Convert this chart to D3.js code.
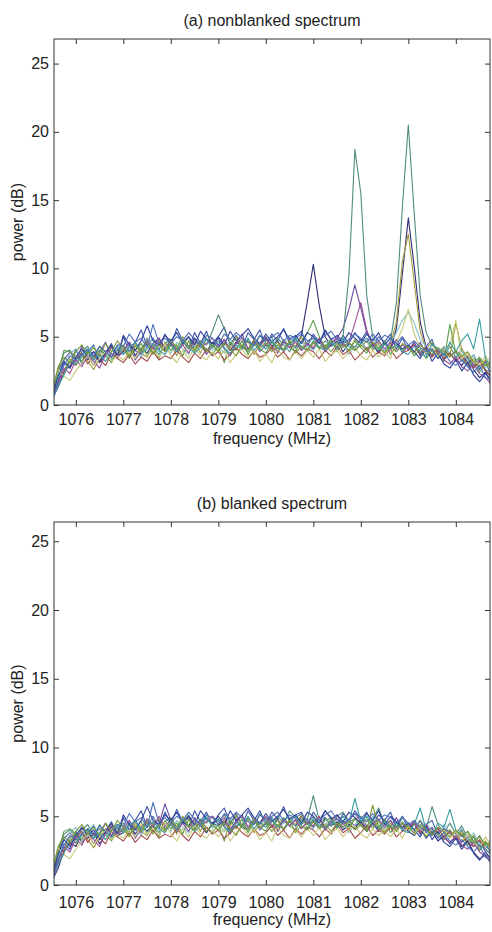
<!DOCTYPE html>
<html>
<head>
<meta charset="utf-8">
<script src="https://cdn.jsdelivr.net/npm/d3@7"></script>
<style>
  body { margin: 0; background: #fff; }
  svg { display: block; font-family: "Liberation Sans", Arial, sans-serif; }
</style>
</head>
<body>
<div id="chart"></div>
<script>
// frequency grid (MHz), one sample every 0.125 MHz
const freqs = [
  1075.5,1075.625,1075.75,1075.875,
  1076,1076.125,1076.25,1076.375,1076.5,1076.625,1076.75,1076.875,
  1077,1077.125,1077.25,1077.375,1077.5,1077.625,1077.75,1077.875,
  1078,1078.125,1078.25,1078.375,1078.5,1078.625,1078.75,1078.875,
  1079,1079.125,1079.25,1079.375,1079.5,1079.625,1079.75,1079.875,
  1080,1080.125,1080.25,1080.375,1080.5,1080.625,1080.75,1080.875,
  1081,1081.125,1081.25,1081.375,1081.5,1081.625,1081.75,1081.875,
  1082,1082.125,1082.25,1082.375,1082.5,1082.625,1082.75,1082.875,
  1083,1083.125,1083.25,1083.375,1083.5,1083.625,1083.75,1083.875,
  1084,1084.125,1084.25,1084.375,1084.5,1084.625,1084.75
];

// (a) nonblanked spectrum, power in dB
const nonblanked = [
  [0.5,1.6,3.1,2.7, 4.1,3.0,3.9,4.4,3.2,3.8,4.5,3.4, 5.0,3.9,4.6,5.5,4.3,4.9,4.0,5.2, 4.4,5.6,4.7,4.1,5.3,4.5,5.4,4.2, 5.0,5.7,4.4,5.1,4.2,5.3,4.8,5.5, 4.3,5.2,4.7,5.6,4.5,5.0,5.4,4.3, 5.2,4.6,5.5,4.8,4.2,5.1,4.5,5.3, 4.7,5.4,4.3,5.0,4.6,5.2,4.1,4.9, 4.0,4.6,3.6,4.3,4.8,3.5,4.2,3.8, 3.3,4.1,3.0,3.7,2.6,3.2,2.1],
  [0.9,2.5,3.3,3.9, 3.2,4.3,3.6,2.9,3.9,4.6,3.5,4.1, 3.7,4.4,3.3,4.0,4.7,3.8,4.5,4.1, 4.8,3.9,4.4,5.0,4.0,4.6,3.7,4.3, 4.9,4.2,3.6,4.5,5.2,4.1,4.7,3.9, 4.4,5.0,3.8,4.6,4.2,4.9,4.0,4.5, 4.1,4.7,3.9,4.4,4.9,5.6,7.0,8.8, 7.1,5.3,4.5,3.9,4.6,4.2,4.8,3.8, 4.4,3.9,4.6,3.7,4.1,3.4,4.0,3.6, 3.9,3.2,3.6,2.9,3.3,2.5,2.0],
  [0.4,1.3,2.4,3.2, 2.9,3.8,3.3,3.9,3.1,3.6,4.3,3.5, 3.9,4.6,3.6,4.2,3.8,4.5,4.9,4.0, 4.5,3.9,4.7,4.2,4.9,4.4,3.9,4.6, 4.2,4.8,4.0,4.6,4.3,3.9,4.7,4.4, 5.0,4.3,4.7,3.9,4.5,4.2,5.1,7.6, 10.3,7.3,5.0,4.3,4.7,3.9,4.5,4.2, 4.8,4.0,4.4,3.8,4.5,4.1,5.6,9.6, 13.7,10.1,6.1,4.2,3.6,4.1,3.3,3.8, 3.4,2.9,3.5,2.6,2.0,2.4,1.6],
  [0.8,2.6,3.8,4.0, 3.4,3.9,4.3,3.5,4.0,3.7,4.4,3.6, 4.3,3.8,4.6,4.0,4.9,4.3,3.7,4.5, 4.8,4.1,4.5,5.0,4.2,4.7,4.4,5.4, 6.6,5.6,4.5,5.0,4.2,4.8,4.3,5.1, 4.5,4.1,4.9,4.4,3.9,4.8,4.2,4.6, 4.9,4.2,4.7,4.3,4.6,5.0,9.5,18.7, 15.5,8.0,5.0,4.4,3.9,4.7,7.5,14.5, 20.5,14.0,8.0,5.3,4.4,4.0,3.6,4.3, 3.5,4.0,3.2,2.8,3.4,2.6,2.3],
  [1.0,2.0,2.5,3.4, 2.9,3.6,3.2,2.6,3.4,4.0,3.3,3.8, 4.1,3.4,4.4,3.8,3.5,4.3,4.7,3.9, 4.4,3.6,4.7,4.1,4.6,3.8,4.9,4.3, 3.9,4.6,4.2,5.0,4.1,4.7,3.7,4.4, 4.8,4.1,4.6,3.9,4.7,4.3,5.0,4.0, 4.5,4.9,4.1,4.7,4.2,4.6,3.9,4.8, 4.3,4.7,4.0,4.6,3.8,4.4,6.1,10.5, 12.5,9.0,5.4,4.1,4.6,3.8,4.3,3.6, 6.0,4.1,3.5,3.2,2.8,3.3,2.6],
  [0.6,2.0,3.2,3.8, 4.1,3.4,3.8,4.3,3.5,3.9,3.3,4.2, 3.7,4.5,4.0,3.5,4.4,4.8,3.9,4.2, 3.8,4.6,4.1,3.7,4.7,4.2,4.9,4.0, 4.3,3.8,4.8,4.2,4.7,3.9,4.5,4.1, 4.7,4.9,4.0,4.4,5.0,4.1,4.6,4.3, 4.0,4.7,4.3,4.9,4.1,4.5,3.7,4.3, 4.7,4.1,4.9,4.4,4.0,4.6,5.3,6.2, 6.8,6.0,4.8,4.3,3.9,3.5,4.3,3.8, 3.4,4.0,3.2,3.7,2.9,2.7,3.3],
  [0.5,2.4,4.0,3.9, 3.6,3.2,3.9,3.3,4.3,3.6,3.1,4.0, 4.4,3.5,4.0,4.5,3.6,4.2,3.4,4.6, 4.0,4.4,3.6,4.7,3.9,4.5,4.1,3.7, 4.3,3.1,4.6,4.0,4.7,3.7,4.5,4.1, 3.8,4.6,4.1,4.8,4.2,3.9,4.7,5.3, 6.2,5.0,4.2,4.8,3.9,4.5,4.0,4.7, 4.2,3.8,4.6,4.1,4.7,3.7,4.4,4.0, 4.3,3.6,4.1,3.4,4.0,3.6,3.2,5.9, 3.8,3.5,2.8,3.4,2.4,3.0,2.7],
  [0.7,1.7,2.4,2.9, 3.3,3.8,3.0,3.6,3.3,2.9,3.8,3.4, 3.1,3.7,3.0,3.5,3.2,3.9,3.3,3.6, 3.4,4.0,3.5,3.1,3.8,3.4,4.1,3.6, 3.9,3.3,3.7,4.2,3.7,3.4,4.0,3.5, 3.7,4.2,3.5,3.9,3.3,4.0,3.6,4.1, 3.9,3.4,4.0,3.6,4.3,3.7,4.0,3.3, 3.7,4.2,3.5,3.9,3.6,4.1,3.4,3.8, 4.0,4.4,3.7,4.2,3.5,4.0,3.4,3.8, 3.2,3.6,3.0,2.7,3.2,2.5,2.1],
  [0.3,1.5,2.7,2.3, 3.3,2.8,3.6,3.2,2.7,3.7,4.2,3.5, 4.0,4.6,4.0,3.7,4.7,4.1,4.9,4.2, 4.6,3.9,4.4,3.8,4.8,4.2,4.5,4.9, 4.3,4.8,4.0,4.5,4.9,4.1,4.6,4.3, 4.9,4.3,3.9,4.7,4.2,4.6,4.0,4.5, 4.2,4.9,4.0,4.5,5.0,4.3,4.6,6.0, 7.5,5.5,4.3,4.7,4.1,4.6,3.9,4.4, 4.1,4.5,3.8,4.3,3.6,4.1,3.3,3.0, 3.5,2.8,2.5,3.0,2.3,2.0,1.5],
  [0.6,2.1,3.2,2.7, 3.5,4.1,3.5,3.9,3.2,3.8,4.4,3.6, 5.1,4.4,4.0,4.7,5.8,4.7,4.4,5.1, 4.7,5.3,4.5,5.0,4.4,5.4,4.8,4.5, 5.0,4.4,5.4,4.7,5.1,5.6,4.9,4.5, 5.2,4.6,5.0,5.5,4.8,5.1,4.5,5.3, 5.0,4.5,5.4,4.8,5.1,4.6,5.3,4.9, 4.5,5.2,4.7,5.3,4.4,4.9,4.5,4.1, 4.4,3.9,3.4,4.2,3.2,3.8,3.0,2.7, 3.3,2.5,3.1,2.2,1.7,2.3,1.8],
  [1.1,2.6,2.1,1.8, 2.5,3.1,3.6,2.9,3.4,3.9,3.2,3.6, 3.3,3.9,3.4,4.3,3.6,4.0,3.5,4.5, 3.6,3.1,4.0,3.4,4.2,3.6,3.3,3.9, 3.4,4.0,3.1,3.7,4.1,3.5,4.0,3.2, 3.7,3.1,4.1,3.5,3.3,3.9,3.4,4.0, 3.5,4.1,3.2,3.7,4.0,3.4,3.9,4.2, 3.6,3.3,4.0,3.5,3.9,3.4,4.6,5.6, 7.0,5.2,4.2,3.8,4.2,3.6,4.0,4.4, 6.2,3.4,3.8,3.3,2.9,3.6,3.0],
  [0.4,1.4,2.2,3.2, 3.0,3.6,4.0,3.3,3.7,3.2,3.9,4.3, 3.7,4.2,4.6,3.8,4.1,4.5,4.0,3.7, 4.4,3.9,4.7,4.2,3.8,4.2,4.8,4.2, 4.7,4.1,3.8,4.4,4.1,4.9,4.0,4.5, 4.1,4.7,4.2,4.0,4.5,4.9,4.2,4.0, 4.7,4.2,4.0,4.6,4.1,4.9,4.3,4.0, 4.5,4.9,4.2,4.0,4.5,4.1,4.4,3.9, 3.7,4.3,3.9,3.5,4.5,4.1,3.7,4.6, 3.9,4.7,5.2,4.1,6.3,3.4,2.8],
  [0.9,2.8,3.5,3.1, 3.9,4.4,3.7,4.2,3.6,4.5,3.9,4.7, 4.1,3.6,4.3,3.9,4.6,3.7,4.4,3.9, 4.7,4.2,5.0,4.3,4.0,4.6,3.9,4.4, 4.0,4.5,4.1,3.6,4.4,4.0,4.8,4.2, 4.5,3.9,4.4,4.1,4.7,3.8,4.3,4.0, 4.6,4.1,4.4,3.9,4.5,4.2,4.6,4.0, 4.4,4.0,4.6,4.2,3.8,4.3,3.9,4.5, 4.2,3.8,4.4,4.0,3.7,4.2,3.9,3.5, 4.0,3.6,3.9,3.1,3.5,2.9,3.1],
  [0.2,1.8,2.9,3.6, 3.3,3.7,4.1,3.6,4.3,3.9,3.5,4.4, 4.3,5.2,4.6,4.9,4.2,5.9,4.5,4.9, 4.5,5.0,4.7,5.3,4.8,4.4,5.1,4.9, 4.4,5.2,4.8,5.3,4.9,4.6,4.4,5.1, 4.7,5.0,5.3,4.7,5.1,4.9,5.2,4.7, 4.9,4.7,5.1,5.4,4.8,4.5,4.8,5.2, 4.9,4.6,5.2,4.7,5.1,4.9,4.5,5.0, 4.4,4.7,4.2,3.9,4.1,3.4,3.8,3.2, 2.9,3.3,2.8,2.4,2.9,2.0,1.9]
];

// (b) blanked spectrum, power in dB
const blanked = [
  [0.4,1.8,3.0,2.6, 3.9,3.1,3.8,4.3,3.3,3.9,4.6,3.5, 4.9,4.0,4.7,5.4,4.2,5.0,4.1,5.3, 4.5,5.5,4.6,4.2,5.4,4.6,5.3,4.3, 5.1,5.6,4.5,5.2,4.3,5.4,4.7,5.4, 4.4,5.3,4.8,5.7,4.6,5.1,5.3,4.4, 5.3,4.7,5.4,4.9,4.3,5.2,4.6,5.4, 4.8,5.3,4.4,5.1,4.7,5.3,4.2,5.0, 4.1,4.5,3.7,4.4,4.7,3.6,4.1,3.9, 3.4,4.0,3.1,3.6,2.7,3.1,2.2],
  [0.8,2.4,3.4,3.8, 3.3,4.2,3.7,3.0,3.8,4.5,3.6,4.2, 3.8,4.5,3.4,4.1,4.6,3.9,4.4,5.9, 4.7,4.0,4.5,4.9,4.1,4.7,3.8,4.4, 4.8,4.3,3.7,4.6,5.1,4.2,4.8,4.0, 4.5,4.9,3.9,4.7,4.3,4.8,4.1,4.6, 4.2,4.8,4.0,4.5,4.8,4.2,4.7,4.3, 4.6,3.9,4.5,4.1,4.7,4.3,4.9,3.9, 4.5,4.0,4.7,3.8,4.2,3.5,4.1,3.7, 3.8,3.1,3.5,2.8,3.2,2.4,1.7],
  [0.3,1.2,2.5,3.1, 2.8,3.7,3.4,3.8,3.0,3.7,4.2,3.6, 3.8,4.5,3.7,4.3,3.9,4.4,4.8,4.1, 4.4,3.8,4.6,4.3,4.8,4.3,3.8,4.5, 4.3,4.7,3.9,4.7,4.2,4.0,4.6,4.5, 4.9,4.2,4.8,4.0,4.6,4.3,5.0,4.4, 4.7,4.1,4.9,4.3,4.6,4.0,4.4,4.1, 4.7,3.9,4.5,3.9,4.4,4.2,4.0,4.5, 3.9,3.6,4.2,3.4,3.9,3.2,3.6,3.0, 3.5,2.8,3.2,2.4,1.9,2.2,1.5],
  [0.8,2.6,3.7,4.0, 3.5,4.0,4.4,3.6,4.1,3.8,4.5,3.7, 4.2,3.9,4.7,4.1,4.8,4.4,3.8,4.6, 4.9,4.2,4.6,5.1,4.3,4.8,4.5,5.0, 4.6,5.1,4.4,5.0,4.3,4.9,4.4,5.2, 4.6,4.2,5.0,4.5,5.4,4.9,4.4,4.8, 6.5,4.7,4.9,4.3,5.0,5.3,4.6,4.8, 5.0,4.3,4.8,5.6,4.4,4.7,4.1,4.9, 4.5,4.0,4.7,4.1,5.7,4.4,3.8,4.5, 3.7,4.3,3.4,3.0,3.6,2.8,2.5],
  [1.0,2.1,2.6,3.5, 3.0,3.7,3.3,2.7,3.5,4.1,3.4,3.9, 4.0,3.5,4.5,3.9,3.6,4.4,4.8,4.0, 4.5,3.7,4.8,4.2,4.7,3.9,5.0,4.4, 4.0,4.7,4.3,5.1,4.2,4.8,3.8,4.5, 4.9,4.2,4.7,4.0,4.8,4.4,5.1,4.1, 4.6,5.0,4.2,4.8,4.3,4.7,4.0,4.9, 4.4,4.8,4.1,4.7,3.9,4.5,4.1,4.6, 4.0,4.5,3.8,4.3,3.6,4.1,3.5,4.0, 3.4,3.9,3.1,3.6,2.7,3.2,2.5],
  [0.5,2.0,3.3,3.8, 4.2,3.5,3.9,4.4,3.6,4.0,3.4,4.3, 3.8,4.6,4.1,3.6,4.5,4.9,4.0,4.3, 3.9,4.7,4.2,3.8,4.8,4.3,5.0,4.1, 4.4,3.9,4.9,4.3,4.8,4.0,4.6,4.2, 4.8,5.0,4.1,4.5,5.1,4.2,4.7,4.4, 4.1,4.8,4.4,5.0,4.2,4.6,3.8,4.4, 4.8,4.2,5.0,4.5,4.1,4.7,4.0,4.6, 4.2,4.7,3.9,4.5,4.0,3.6,4.4,3.8, 3.5,4.1,3.3,3.8,3.0,2.8,3.4],
  [0.6,2.4,3.9,4.1, 3.7,3.3,4.0,3.4,4.4,3.7,3.2,4.1, 4.5,3.6,4.1,4.6,3.7,4.3,3.5,4.7, 4.1,4.5,3.7,4.8,4.0,4.6,4.2,3.8, 4.4,3.2,4.7,4.1,4.8,3.8,4.6,4.2, 3.9,4.7,4.2,4.9,4.3,4.0,4.8,4.4, 5.0,4.3,4.7,4.9,4.1,4.7,4.2,4.8, 4.3,3.9,4.7,4.2,4.8,3.8,4.5,4.1, 4.4,3.7,4.2,3.5,4.1,3.7,3.3,4.0, 3.3,3.7,2.9,3.5,2.5,3.1,2.8],
  [0.7,1.8,2.5,3.0, 3.4,3.9,3.1,3.7,3.4,3.0,3.9,3.5, 3.2,3.8,3.1,3.6,3.3,4.0,3.4,3.7, 3.5,4.1,3.6,3.2,3.9,3.5,4.2,3.7, 4.0,3.4,3.8,4.3,3.8,3.5,4.1,3.6, 3.8,4.3,3.6,4.0,3.4,4.1,3.7,4.2, 4.0,3.5,4.1,3.7,4.4,3.8,4.1,3.4, 3.8,4.3,3.6,4.0,3.7,4.2,3.5,3.9, 4.1,4.5,3.8,4.3,3.6,4.1,3.5,3.9, 3.3,3.7,3.1,2.8,3.3,2.6,2.2],
  [0.3,1.6,2.8,2.4, 3.4,2.9,3.7,3.3,2.8,3.8,4.3,3.6, 4.1,4.7,4.1,3.8,4.8,4.2,5.0,4.3, 4.7,4.0,4.5,3.9,4.9,4.3,4.6,5.0, 4.4,4.9,4.1,4.6,5.0,4.2,4.7,4.4, 5.0,4.4,4.0,4.8,4.3,4.7,4.1,4.6, 4.3,5.0,4.1,4.6,5.1,4.4,4.7,5.2, 4.6,4.2,4.4,4.8,4.2,4.7,4.0,4.5, 4.2,4.6,3.9,4.4,3.7,4.2,3.4,3.1, 3.6,2.9,2.6,3.1,2.4,2.1,1.6],
  [0.6,2.2,3.3,2.8, 3.6,4.2,3.6,4.0,3.3,3.9,4.5,3.7, 5.1,4.4,4.0,4.7,5.7,4.7,4.4,5.1, 4.7,5.3,4.5,5.0,4.4,5.4,4.8,4.5, 5.0,4.4,5.4,4.7,5.1,5.6,4.9,4.5, 5.2,4.6,5.0,5.5,4.8,5.1,4.5,5.3, 5.0,4.5,5.4,4.8,5.1,4.6,5.3,4.9, 4.5,5.2,4.7,5.4,4.4,5.0,4.6,4.2, 4.5,4.0,3.5,4.3,3.3,3.9,3.1,2.8, 3.4,2.6,3.2,2.3,1.8,2.4,1.9],
  [1.1,2.7,2.2,1.9, 2.6,3.2,3.7,3.0,3.5,4.0,3.3,3.7, 3.4,4.0,3.5,4.4,3.7,4.1,3.6,4.6, 3.7,3.2,4.1,3.5,4.3,3.7,3.4,4.0, 3.5,4.1,3.2,3.8,4.2,3.6,4.1,3.3, 3.8,3.2,4.2,3.6,3.4,4.0,3.5,4.1, 3.6,4.2,3.3,3.8,4.1,3.5,4.0,4.3, 3.7,3.4,4.1,3.6,4.0,3.5,4.1,3.4, 4.3,3.7,4.2,3.6,4.1,3.5,4.0,3.4, 3.9,3.2,3.7,3.1,2.7,3.5,2.8],
  [0.4,1.5,2.3,3.3, 3.1,3.7,4.1,3.4,3.8,3.3,4.0,4.4, 3.8,4.3,4.7,3.9,4.2,4.6,4.1,3.8, 4.5,4.0,4.8,4.3,3.9,4.3,4.9,4.3, 4.8,4.2,3.9,4.5,4.2,5.0,4.1,4.6, 4.2,4.8,4.3,4.1,4.6,5.0,4.3,4.1, 4.8,4.3,4.1,4.7,4.2,5.0,4.5,6.3, 4.6,5.0,4.3,4.1,4.6,4.2,4.5,4.0, 3.8,4.4,5.6,4.0,3.6,4.5,4.2,5.5, 4.0,3.5,3.9,3.2,2.9,2.6,2.2],
  [0.9,2.8,3.5,3.1, 3.9,4.4,3.7,4.2,3.6,4.5,3.9,4.7, 4.1,3.6,4.3,3.9,4.6,3.7,4.4,3.9, 4.7,4.2,5.0,4.3,4.0,4.6,3.9,4.4, 4.0,4.5,4.1,3.6,4.4,4.0,4.8,4.2, 4.5,3.9,4.4,4.1,4.7,3.8,4.3,4.0, 4.6,4.1,4.4,3.9,4.5,4.2,4.6,4.0, 4.4,4.0,5.8,4.2,3.8,4.3,3.9,4.5, 4.2,3.8,4.4,4.0,3.7,4.2,3.9,3.5, 4.0,3.6,3.9,3.1,3.5,2.9,3.1],
  [0.2,1.8,2.9,3.6, 3.3,3.7,4.1,3.6,4.3,3.9,3.5,4.4, 4.3,5.2,4.6,4.9,4.2,6.0,4.5,4.9, 4.5,5.0,4.7,5.3,4.8,4.4,5.1,4.9, 4.4,5.2,4.8,5.3,4.9,4.6,4.4,5.1, 4.7,5.0,5.3,4.7,5.1,4.9,5.2,4.7, 4.9,4.7,5.1,5.4,4.8,4.5,4.8,5.2, 4.9,4.6,5.2,4.7,5.1,4.9,4.5,5.0, 4.4,4.7,4.2,3.9,4.1,3.4,3.8,3.2, 2.9,3.3,2.8,2.4,2.9,2.0,1.9]
];

const traceColors = ["#3a55a8","#6b4a9e","#2e2d78","#4f8b7c","#a39c3c","#86c2c8","#5c9e4c",
                     "#a64a4a","#9a4f9a","#2f3f9c","#c8c878","#3b9ba3","#7a9a3a","#4c6fb8"];
const xTicks = [1076, 1077, 1078, 1079, 1080, 1081, 1082, 1083, 1084];
const yTicks = [0, 5, 10, 15, 20, 25];

const width = 492, height = 932;

const svg = d3.select("#chart").append("svg")
  .attr("width", width)
  .attr("height", height);

function drawPanel(cfg) {
  const x = d3.scaleLinear().domain([1075.54, 1084.72]).range([cfg.left, cfg.right]);
  const y = d3.scaleLinear().domain([0, cfg.yMax]).range([cfg.bottom, cfg.top]);

  const g = svg.append("g");

  // clip so lines stay inside the box
  g.append("clipPath").attr("id", cfg.id)
    .append("rect")
    .attr("x", cfg.left).attr("y", cfg.top)
    .attr("width", cfg.right - cfg.left).attr("height", cfg.bottom - cfg.top);

  const line = d3.line()
    .defined((d, i) => i < freqs.length)
    .x((d, i) => x(freqs[i]))
    .y(d => y(d));

  g.append("g").attr("clip-path", `url(#${cfg.id})`)
    .selectAll("path")
    .data(cfg.series)
    .enter()
    .append("path")
    .attr("d", line)
    .attr("fill", "none")
    .attr("stroke", (d, i) => traceColors[i % traceColors.length])
    .attr("stroke-width", 1.1)
    .attr("stroke-linejoin", "round");

  // axes, ticks pointing inward on all four sides
  const bottomAxis = g.append("g")
    .attr("transform", `translate(0,${cfg.bottom})`)
    .call(d3.axisBottom(x).tickValues(xTicks).tickSizeInner(-5).tickSizeOuter(0).tickPadding(cfg.xPad).tickFormat(d3.format("d")));

  const topAxis = g.append("g")
    .attr("transform", `translate(0,${cfg.top})`)
    .call(d3.axisTop(x).tickValues(xTicks).tickSizeInner(-5).tickSizeOuter(0).tickFormat(""));

  const leftAxis = g.append("g")
    .attr("transform", `translate(${cfg.left},0)`)
    .call(d3.axisLeft(y).tickValues(yTicks).tickSizeInner(-5).tickSizeOuter(0).tickPadding(5));

  const rightAxis = g.append("g")
    .attr("transform", `translate(${cfg.right},0)`)
    .call(d3.axisRight(y).tickValues(yTicks).tickSizeInner(-5).tickSizeOuter(0).tickFormat(""));

  [bottomAxis, topAxis, leftAxis, rightAxis].forEach(a => {
    a.select(".domain").remove();
    a.selectAll(".tick line").attr("stroke", "#333");
    a.selectAll(".tick text")
      .attr("fill", "#222")
      .style("font-family", "'Liberation Sans', Arial, sans-serif")
      .style("font-size", "16px");
  });

  g.append("rect")
    .attr("x", cfg.left).attr("y", cfg.top)
    .attr("width", cfg.right - cfg.left).attr("height", cfg.bottom - cfg.top)
    .attr("fill", "none")
    .attr("stroke", "#333")
    .attr("stroke-width", 1);

  // title
  g.append("text")
    .attr("x", (cfg.left + cfg.right) / 2)
    .attr("y", cfg.titleY)
    .attr("text-anchor", "middle")
    .style("font-size", "16px")
    .attr("fill", "#222")
    .text(cfg.title);

  // x label
  g.append("text")
    .attr("x", (cfg.left + cfg.right) / 2)
    .attr("y", cfg.xLabelY)
    .attr("text-anchor", "middle")
    .style("font-size", "16px")
    .attr("fill", "#222")
    .text("frequency (MHz)");

  // y label
  g.append("text")
    .attr("transform", `translate(23,${(cfg.top + cfg.bottom) / 2}) rotate(-90)`)
    .attr("text-anchor", "middle")
    .style("font-size", "16px")
    .attr("fill", "#222")
    .text("power (dB)");
}

drawPanel({
  id: "clipA", series: nonblanked, title: "(a) nonblanked spectrum",
  left: 54, right: 490, top: 39, bottom: 405, yMax: 26.8,
  titleY: 26, xLabelY: 444, xPad: 9
});

drawPanel({
  id: "clipB", series: blanked, title: "(b) blanked spectrum",
  left: 54, right: 490, top: 522, bottom: 885, yMax: 26.4,
  titleY: 509, xLabelY: 925, xPad: 12
});
</script>
</body>
</html>
